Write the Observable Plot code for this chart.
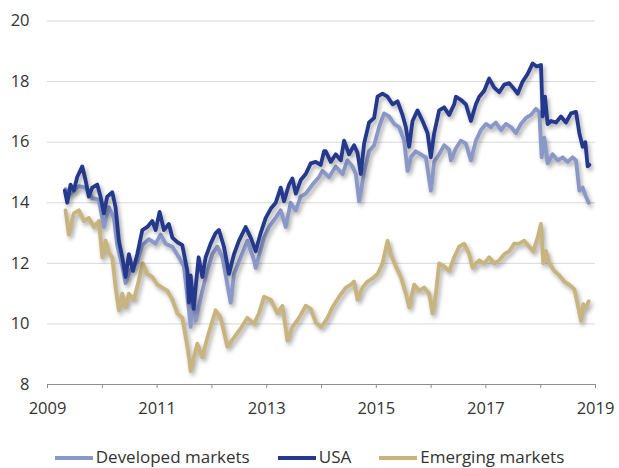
<!DOCTYPE html>
<html>
<head>
<meta charset="utf-8">
<script src="https://cdn.jsdelivr.net/npm/d3@7"></script>
<script src="https://cdn.jsdelivr.net/npm/@observablehq/plot@0.6"></script>
<style>
  body { margin: 0; background: #fff; font-family: "Open Sans", sans-serif; }
  #wrap { position: relative; width: 619px; height: 468px; overflow: hidden; }
  #legend { position: absolute; left: 0; top: 447px; width: 619px; display: flex; justify-content: center; align-items: center; font-size: 17px; line-height: 19px; color: #333; }
  .item { display: flex; align-items: center; margin: 0 14px; }
  .sw { width: 38px; height: 4px; margin-right: 3px; margin-top: 2px; }
</style>
</head>
<body>
<div id="wrap"><div id="chart"></div><div id="legend"></div></div>
<script>
const seriesNames = ["Developed markets", "USA", "Emerging markets"];
const seriesColors = ["#8a97c9", "#24388d", "#c8b47c"];
const yTicks = [8, 10, 12, 14, 16, 18, 20];
const xTicks = [2009, 2010, 2011, 2012, 2013, 2014, 2015, 2016, 2017, 2018, 2019];

const usaT = [0.316,0.360,0.420,0.480,0.542,0.634,0.694,0.754,0.816,0.908,0.968,1.028,1.090,1.182,1.242,1.302,1.364,1.425,1.485,1.558,1.638,1.730,1.821,1.912,1.973,2.046,2.124,2.215,2.278,2.369,2.460,2.552,2.581,2.612,2.667,2.703,2.758,2.826,2.886,2.977,3.068,3.129,3.220,3.311,3.403,3.494,3.616,3.708,3.799,3.890,3.982,4.073,4.164,4.256,4.316,4.407,4.469,4.530,4.621,4.712,4.804,4.895,4.986,5.047,5.078,5.169,5.260,5.352,5.412,5.503,5.595,5.657,5.717,5.777,5.868,5.960,6.022,6.113,6.205,6.296,6.387,6.478,6.539,6.599,6.661,6.752,6.844,6.935,6.995,7.056,7.147,7.238,7.330,7.421,7.452,7.543,7.635,7.726,7.817,7.878,7.969,8.060,8.152,8.243,8.334,8.426,8.517,8.579,8.670,8.761,8.853,8.926,9.005,9.036,9.078,9.127,9.187,9.279,9.370,9.461,9.553,9.644,9.705,9.766,9.814,9.857,9.887];
const usaV = [14.4,14.0,14.6,14.4,14.85,15.2,14.75,14.2,14.5,14.6,14.2,13.65,14.2,14.35,13.85,12.75,12.2,11.55,12.3,11.75,12.3,13.1,13.2,13.4,13.1,13.7,13.1,13.3,12.85,12.7,12.6,11.75,10.7,11.6,10.5,11.2,12.2,11.55,12.2,12.65,13.0,13.1,12.55,11.65,12.3,12.75,13.2,12.85,12.4,13.0,13.5,13.8,14.0,14.5,14.05,14.6,14.8,14.3,14.75,14.95,15.3,15.35,15.25,15.7,15.7,15.35,15.6,15.4,16.05,15.6,15.9,15.65,14.95,15.95,16.65,16.8,17.5,17.6,17.5,17.25,17.35,16.9,16.5,15.85,16.7,17.05,16.7,16.3,15.5,16.3,17.05,17.15,16.9,17.25,17.5,17.4,17.25,16.7,17.25,17.5,17.7,18.1,17.8,17.65,17.9,17.95,17.75,17.6,18.0,18.25,18.6,18.5,18.55,16.85,17.5,16.6,16.7,16.65,16.85,16.65,16.95,17.0,16.3,15.85,16.0,15.2,15.25];

const devT = [0.329,0.420,0.572,0.694,0.816,0.937,1.028,1.120,1.211,1.273,1.364,1.425,1.516,1.638,1.730,1.850,1.973,2.064,2.155,2.278,2.398,2.489,2.581,2.612,2.643,2.703,2.826,2.917,3.008,3.100,3.191,3.342,3.403,3.525,3.647,3.768,3.799,3.951,4.042,4.164,4.256,4.347,4.438,4.530,4.621,4.712,4.835,4.955,5.017,5.138,5.260,5.383,5.474,5.565,5.626,5.686,5.777,5.868,5.960,6.051,6.142,6.234,6.325,6.416,6.508,6.570,6.630,6.721,6.813,6.904,6.995,7.056,7.147,7.238,7.330,7.361,7.452,7.543,7.635,7.726,7.817,7.909,8.000,8.091,8.183,8.274,8.365,8.457,8.548,8.639,8.731,8.822,8.913,8.974,9.017,9.065,9.127,9.218,9.310,9.401,9.492,9.583,9.644,9.705,9.766,9.826,9.876];
const devV = [14.45,14.3,14.55,14.5,14.15,14.1,13.2,13.85,13.5,12.6,11.9,11.35,11.8,12.05,12.6,12.8,12.65,12.95,12.65,12.55,12.2,11.9,10.45,9.9,10.9,10.1,11.1,11.75,12.3,12.55,12.2,10.7,11.65,12.2,12.75,12.1,11.85,12.85,13.2,13.5,13.75,13.2,14.0,13.75,14.2,14.3,14.6,14.85,15.05,14.85,15.2,14.95,15.4,15.2,14.95,14.05,15.0,15.7,15.9,16.5,16.95,16.85,16.6,16.5,16.05,15.05,15.5,15.7,15.6,15.5,14.4,15.35,15.6,15.9,15.75,15.4,15.8,16.05,15.95,15.4,16.05,16.4,16.6,16.5,16.65,16.4,16.6,16.5,16.3,16.6,16.8,16.9,17.1,17.0,15.5,16.15,15.3,15.6,15.4,15.5,15.35,15.5,15.4,14.4,14.5,14.2,14.0];

const emT = [0.329,0.389,0.480,0.572,0.663,0.754,0.846,0.937,0.999,1.059,1.120,1.182,1.242,1.302,1.364,1.425,1.485,1.576,1.668,1.741,1.821,1.912,2.004,2.095,2.186,2.278,2.369,2.460,2.552,2.581,2.612,2.643,2.734,2.826,2.917,3.068,3.160,3.282,3.403,3.525,3.647,3.768,3.859,3.951,4.073,4.195,4.287,4.378,4.469,4.590,4.712,4.804,4.895,4.986,5.017,5.109,5.200,5.321,5.443,5.534,5.595,5.657,5.748,5.839,5.931,6.022,6.113,6.205,6.265,6.356,6.447,6.539,6.599,6.690,6.782,6.873,6.964,7.026,7.087,7.147,7.238,7.330,7.421,7.512,7.604,7.695,7.757,7.817,7.878,7.969,8.060,8.152,8.243,8.334,8.426,8.517,8.608,8.700,8.791,8.864,8.944,9.005,9.047,9.096,9.156,9.248,9.339,9.430,9.521,9.613,9.674,9.735,9.777,9.826,9.876];
const emV = [13.75,12.95,13.65,13.75,13.4,13.5,13.2,13.4,12.2,12.75,12.35,12.2,11.2,10.45,11.0,10.55,11.0,10.8,11.45,12.0,11.65,11.55,11.3,11.2,11.1,10.8,10.35,10.2,9.25,8.9,8.45,8.7,9.35,8.9,9.55,10.45,10.2,9.25,9.55,9.85,10.2,10.0,10.35,10.9,10.8,10.35,10.6,9.45,9.9,10.2,10.6,10.5,10.05,9.9,9.95,10.2,10.55,10.9,11.2,11.3,11.4,10.8,11.2,11.4,11.5,11.65,12.0,12.75,12.3,11.9,11.55,11.0,10.55,11.3,11.1,11.2,11.0,10.35,11.0,12.0,11.9,11.75,12.2,12.55,12.65,12.3,11.85,12.0,12.1,12.0,12.2,12.0,12.1,12.3,12.4,12.65,12.65,12.75,12.55,12.4,12.85,13.3,12.0,12.4,12.0,11.75,11.6,11.4,11.3,11.15,10.65,10.1,10.65,10.55,10.75];

const toRows = (T, V, s) => T.map((t, i) => ({t: 2009 + t, v: V[i], s}));
const dev = toRows(devT, devV, seriesNames[0]);
const usa = toRows(usaT, usaV, seriesNames[1]);
const em = toRows(emT, emV, seriesNames[2]);

const lineOpts = (color) => ({x: "t", y: "v", stroke: color, strokeWidth: 3.8, strokeLinejoin: "round", strokeLinecap: "round"});

const chart = Plot.plot({
  width: 619,
  height: 425,
  marginTop: 20.5,
  marginBottom: 41,
  marginLeft: 47,
  marginRight: 24,
  style: {fontFamily: "'Open Sans', sans-serif", fontSize: "16px", color: "#333", background: "transparent"},
  x: {domain: [2009, 2019], label: null},
  y: {domain: [8, 20], label: null},
  marks: [
    Plot.gridY(yTicks, {stroke: "#d8d8d8", strokeOpacity: 1, strokeWidth: 1}),
    Plot.axisY(yTicks, {tickSize: 0, tickPadding: 18, label: null, fill: "#333", fontSize: 16.5}),
    Plot.ruleY([8], {stroke: "#8c8c8c", strokeWidth: 1}),
    Plot.axisX(xTicks, {tickSize: 4, tickPadding: 14, stroke: "#8c8c8c", label: null, fill: "#333", fontSize: 16.5,
      tickFormat: d => (d % 2 === 1 ? String(d) : "")}),
    Plot.line(em, lineOpts(seriesColors[2])),
    Plot.line(dev, lineOpts(seriesColors[0])),
    Plot.line(usa, lineOpts(seriesColors[1]))
  ]
});
chart.querySelectorAll('g[aria-label="line"]').forEach(g => {
  g.style.filter = "drop-shadow(2px 3px 2px rgba(0,0,0,0.33))";
});
document.getElementById("chart").appendChild(chart);

const legend = document.getElementById("legend");
seriesNames.forEach((name, i) => {
  const item = document.createElement("div");
  item.className = "item";
  const sw = document.createElement("span");
  sw.className = "sw";
  sw.style.background = seriesColors[i];
  const lab = document.createElement("span");
  lab.textContent = name;
  item.appendChild(sw);
  item.appendChild(lab);
  legend.appendChild(item);
});
</script>
</body>
</html>
